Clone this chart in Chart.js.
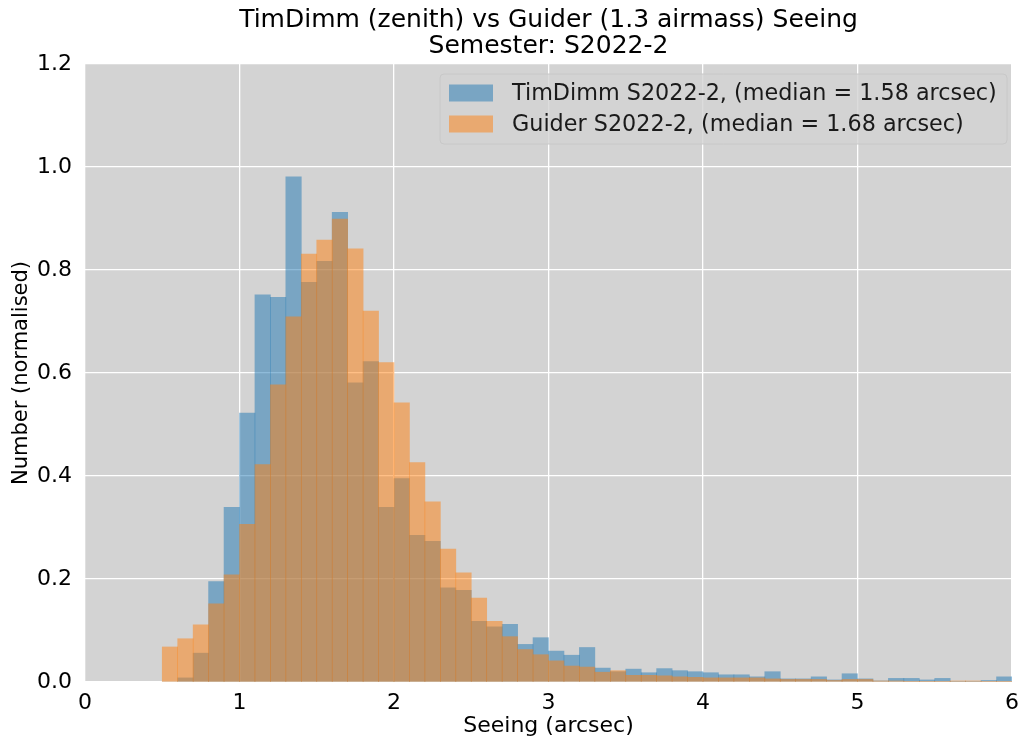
<!DOCTYPE html>
<html>
<head>
<meta charset="utf-8">
<script src="https://cdn.jsdelivr.net/npm/chart.js@4/dist/chart.umd.min.js"></script>
<style>
  html, body { margin: 0; padding: 0; background: #ffffff; }
  #wrap { width: 1027px; height: 742px; position: relative; }
</style>
</head>
<body>
<div id="wrap"><canvas id="c" width="1027" height="742"></canvas></div>
<script>
const titleLines = ['TimDimm (zenith) vs Guider (1.3 airmass) Seeing', 'Semester: S2022-2'];
const xLabel = 'Seeing (arcsec)';
const yLabel = 'Number (normalised)';
const seriesNames = ['TimDimm S2022-2, (median = 1.58 arcsec)', 'Guider S2022-2, (median = 1.68 arcsec)'];

// bin centres (bin width 0.1 arcsec, 0.5 .. 6.0)
const binCentres = [0.55,0.65,0.75,0.85,0.95,1.05,1.15,1.25,1.35,1.45,1.55,1.65,1.75,1.85,1.95,
  2.05,2.15,2.25,2.35,2.45,2.55,2.65,2.75,2.85,2.95,3.05,3.15,3.25,3.35,3.45,3.55,3.65,3.75,3.85,3.95,
  4.05,4.15,4.25,4.35,4.45,4.55,4.65,4.75,4.85,4.95,5.05,5.15,5.25,5.35,5.45,5.55,5.65,5.75,5.85,5.95];

const timDimm = [0.000,0.008,0.056,0.195,0.339,0.522,0.752,0.747,0.981,0.776,0.817,0.912,0.581,0.622,0.339,
  0.395,0.285,0.273,0.183,0.178,0.118,0.107,0.112,0.073,0.086,0.060,0.052,0.067,0.027,0.020,0.025,0.018,0.026,0.022,0.020,
  0.018,0.014,0.014,0.010,0.020,0.006,0.006,0.010,0.004,0.016,0.006,0.002,0.007,0.007,0.004,0.007,0.001,0.001,0.003,0.010];

const guider = [0.068,0.084,0.111,0.152,0.208,0.306,0.422,0.577,0.709,0.831,0.858,0.899,0.841,0.720,0.620,
  0.542,0.426,0.350,0.258,0.212,0.163,0.118,0.088,0.063,0.053,0.041,0.031,0.029,0.019,0.022,0.013,0.013,0.012,0.010,0.009,
  0.008,0.008,0.008,0.008,0.006,0.005,0.005,0.005,0.003,0.005,0.005,0.002,0.002,0.001,0.001,0.001,0.002,0.002,0.001,0.001];

const xTicks = [0,1,2,3,4,5,6];
const yTicks = [0.0,0.2,0.4,0.6,0.8,1.0,1.2];

const FONT = 'DejaVu Sans';
const blueFill = 'rgba(31,119,180,0.5)';
const orangeFill = 'rgba(255,127,14,0.5)';

const bgPlugin = {
  id: 'plotBg',
  beforeDraw(chart) {
    const {ctx, chartArea: a} = chart;
    ctx.save();
    ctx.fillStyle = '#d3d3d3';
    ctx.fillRect(a.left, a.top, a.right - a.left, a.bottom - a.top);
    ctx.restore();
  }
};

// title centred over the axes (as matplotlib does)
const titlePlugin = {
  id: 'axesTitle',
  afterDraw(chart) {
    const {ctx, chartArea: a} = chart;
    const cx = (a.left + a.right) / 2;
    ctx.save();
    ctx.font = '25px "' + FONT + '"';
    ctx.fillStyle = '#000000';
    ctx.textAlign = 'center';
    ctx.textBaseline = 'middle';
    ctx.fillText(titleLines[0], cx, 20);
    ctx.fillText(titleLines[1], cx, 46);
    ctx.restore();
  }
};

const legendPlugin = {
  id: 'innerLegend',
  afterDatasetsDraw(chart) {
    const ctx = chart.ctx;
    const x0 = 440, y0 = 74, w = 567, h = 70, r = 4;
    ctx.save();
    ctx.beginPath();
    ctx.roundRect(x0, y0, w, h, r);
    ctx.fillStyle = 'rgba(211,211,211,0.8)';
    ctx.fill();
    ctx.strokeStyle = '#c8c8c8';
    ctx.lineWidth = 1;
    ctx.stroke();
    const fills = [blueFill, orangeFill];
    const rowsY = [93, 124];
    ctx.font = '22.3px "' + FONT + '"';
    ctx.textBaseline = 'middle';
    ctx.textAlign = 'left';
    for (let i = 0; i < 2; i++) {
      ctx.fillStyle = '#d3d3d3';
      ctx.fillRect(449, rowsY[i] - 8.5, 44, 17);
      ctx.fillStyle = fills[i];
      ctx.fillRect(449, rowsY[i] - 8.5, 44, 17);
      ctx.fillStyle = '#1a1a1a';
      ctx.fillText(seriesNames[i], 512, rowsY[i] + 1);
    }
    ctx.restore();
  }
};

const toPts = (vals) => vals.map((v, i) => ({x: binCentres[i], y: v}));

new Chart(document.getElementById('c'), {
  type: 'bar',
  data: {
    datasets: [
      { label: seriesNames[0], data: toPts(timDimm), backgroundColor: blueFill, borderWidth: 0,
        barPercentage: 1.0, categoryPercentage: 1.0, grouped: false, order: 1 },
      { label: seriesNames[1], data: toPts(guider), backgroundColor: orangeFill, borderWidth: 0,
        barPercentage: 1.0, categoryPercentage: 1.0, grouped: false, order: 0 }
    ]
  },
  options: {
    responsive: false,
    animation: false,
    devicePixelRatio: 1,
    layout: { padding: { left: 0, right: 10, top: 64, bottom: 0 } },
    plugins: {
      legend: { display: false },
      tooltip: { enabled: false },
      title: { display: false }
    },
    scales: {
      x: {
        type: 'linear',
        min: 0, max: 6,
        offset: false,
        afterFit(s) { s.height = 60; },
        afterBuildTicks(s) { s.ticks = xTicks.map(v => ({value: v})); },
        ticks: { color: '#000', padding: 8, font: { family: FONT, size: 22 },
                 callback: v => String(v) },
        grid: { color: '#ffffff', lineWidth: 1.3, drawTicks: false, offset: false },
        border: { display: false },
        title: { display: true, text: xLabel, color: '#000',
                 font: { family: FONT, size: 22 }, padding: { top: 0, bottom: 3 } }
      },
      y: {
        min: 0, max: 1.2,
        afterFit(s) { s.width = 85; },
        afterBuildTicks(s) { s.ticks = yTicks.map(v => ({value: v})); },
        ticks: { color: '#000', padding: 13, font: { family: FONT, size: 22 },
                 callback: v => Number(v).toFixed(1) },
        grid: { color: '#ffffff', lineWidth: 1.3, drawTicks: false },
        border: { display: false },
        title: { display: true, text: yLabel, color: '#000',
                 font: { family: FONT, size: 21 }, padding: { top: 9, bottom: 0 } }
      }
    }
  },
  plugins: [bgPlugin, legendPlugin, titlePlugin]
});
</script>
</body>
</html>
